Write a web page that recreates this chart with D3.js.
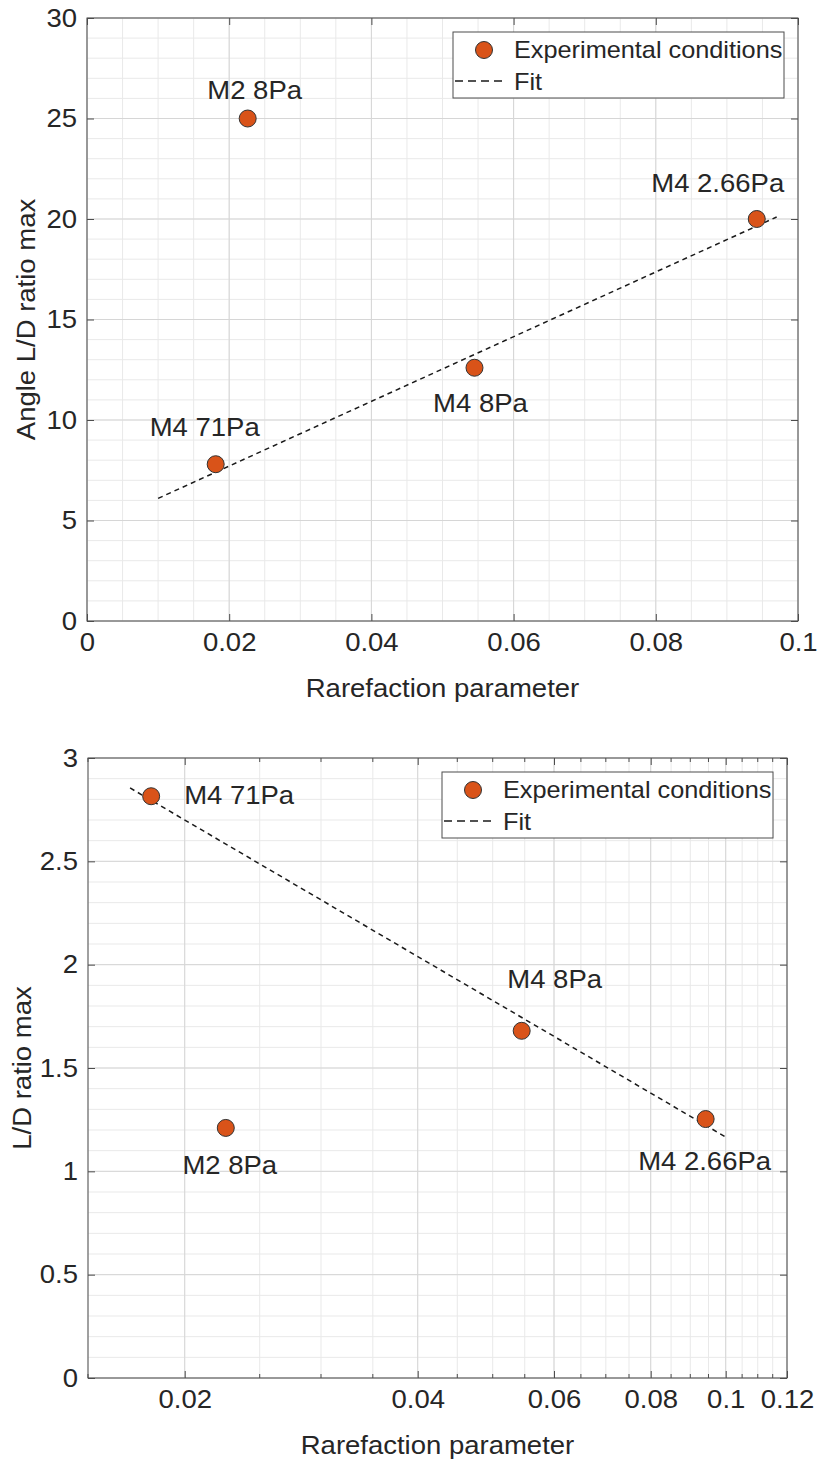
<!DOCTYPE html>
<html>
<head>
<meta charset="utf-8">
<script src="https://cdn.jsdelivr.net/npm/d3@7"></script>
<style>
  body { margin: 0; background: #fff; }
  text { font-family: "Liberation Sans", Arial, sans-serif; fill: #262626; }
</style>
</head>
<body>
<svg id="chart" width="817" height="1459"></svg>
<script>
// data
const conditions = ["M4 71Pa", "M2 8Pa", "M4 8Pa", "M4 2.66Pa"];
const rarefaction = [0.0181, 0.0226, 0.0545, 0.0942];
const angleLD = [7.8, 25, 12.6, 20];
const ratioLD = [2.815, 1.21, 1.68, 1.253];

const fitAngleX = [0.01, 0.097];
const fitAngleY = [6.1, 20.1];
const fitRatioX = [0.017, 0.1];
const fitRatioY = [2.855, 1.166];

const topXTicks = [0, 0.02, 0.04, 0.06, 0.08, 0.1];
const topXLabels = ["0", "0.02", "0.04", "0.06", "0.08", "0.1"];
const topYTicks = [0, 5, 10, 15, 20, 25, 30];
const topYLabels = ["0", "5", "10", "15", "20", "25", "30"];
const botXTicks = [0.02, 0.04, 0.06, 0.08, 0.1, 0.12];
const botXLabels = ["0.02", "0.04", "0.06", "0.08", "0.1", "0.12"];
const botYTicks = [0, 0.5, 1, 1.5, 2, 2.5, 3];
const botYLabels = ["0", "0.5", "1", "1.5", "2", "2.5", "3"];

// where each annotation sits relative to its point (same order as conditions)
const topLabelPos = [
  {dx: -11, dy: -28, anchor: "middle"},
  {dx: 7, dy: -19, anchor: "middle"},
  {dx: 6, dy: 44, anchor: "middle"},
  {dx: -39, dy: -27, anchor: "middle"}
];
const botLabelPos = [
  {dx: 33, dy: 8, anchor: "start"},
  {dx: 4, dy: 46, anchor: "middle"},
  {dx: 33, dy: -43, anchor: "middle"},
  {dx: -1, dy: 51, anchor: "middle"}
];

const svg = d3.select("#chart");
const orange = "#D95319";
const fs = 25;

// the figure's font runs a bit wider than Arial
function wide(sel, origin) {
  sel.style("transform-box", "fill-box")
    .style("transform-origin", origin || "center")
    .style("transform", "scaleX(1.1)");
}
const originFor = a => a === "start" ? "left center" : a === "end" ? "right center" : "center";

function panel(o) {
  const g = svg.append("g");
  const x = o.x, y = o.y;
  const [x0, x1] = x.range(), [y1, y0] = y.range();

  // grid
  g.append("g").selectAll("line").data(o.xMinor).enter().append("line")
    .attr("x1", d => x(d)).attr("x2", d => x(d)).attr("y1", y0).attr("y2", y1)
    .attr("stroke", "#e9e9e9").attr("stroke-width", 1);
  g.append("g").selectAll("line").data(o.yMinor).enter().append("line")
    .attr("y1", d => y(d)).attr("y2", d => y(d)).attr("x1", x0).attr("x2", x1)
    .attr("stroke", "#e9e9e9").attr("stroke-width", 1);
  g.append("g").selectAll("line").data(o.xTicks).enter().append("line")
    .attr("x1", d => x(d)).attr("x2", d => x(d)).attr("y1", y0).attr("y2", y1)
    .attr("stroke", "#d6d6d6").attr("stroke-width", 1);
  g.append("g").selectAll("line").data(o.yTicks).enter().append("line")
    .attr("y1", d => y(d)).attr("y2", d => y(d)).attr("x1", x0).attr("x2", x1)
    .attr("stroke", "#d6d6d6").attr("stroke-width", 1);

  // minor ticks (log axis only)
  if (o.minorTicks) {
    const mt = o.xMinor.filter(d => !o.xTicks.some(t => Math.abs(t - d) < 1e-9));
    [y1, y0].forEach((yy, k) => {
      g.append("g").selectAll("line").data(mt).enter().append("line")
        .attr("x1", d => x(d)).attr("x2", d => x(d))
        .attr("y1", yy).attr("y2", k ? yy + 4 : yy - 4)
        .attr("stroke", "#4d4d4d");
    });
  }

  // axes with inward ticks
  const ax = (axis, labels, tr, origin) => {
    const a = g.append("g").attr("transform", tr).call(axis);
    a.select(".domain").remove();
    a.selectAll(".tick line").attr("stroke", "#4d4d4d");
    if (!labels) { a.selectAll("text").remove(); return a; }
    a.selectAll("text").attr("font-size", fs).attr("fill", "#262626")
      .style("font-family", '"Liberation Sans", Arial, sans-serif')
      .call(wide, origin);
    return a;
  };
  ax(d3.axisBottom(x).tickValues(o.xTicks).tickSize(-7).tickPadding(12)
      .tickFormat((d, i) => o.xLabels[i]), true, `translate(0,${y1})`, "center");
  ax(d3.axisTop(x).tickValues(o.xTicks).tickSize(-7).tickFormat(""), false, `translate(0,${y0})`);
  ax(d3.axisLeft(y).tickValues(o.yTicks).tickSize(-7).tickPadding(10)
      .tickFormat((d, i) => o.yLabels[i]), true, `translate(${x0},0)`, "right center");
  ax(d3.axisRight(y).tickValues(o.yTicks).tickSize(-7).tickFormat(""), false, `translate(${x1},0)`);

  g.append("rect").attr("x", x0).attr("y", y0)
    .attr("width", x1 - x0).attr("height", y1 - y0)
    .attr("fill", "none").attr("stroke", "#4d4d4d").attr("stroke-width", 1);

  // fit line
  const line = d3.line().x(d => x(d[0])).y(d => y(d[1]));
  g.append("path").datum(d3.zip(o.fitX, o.fitY))
    .attr("d", line).attr("fill", "none")
    .attr("stroke", "#1a1a1a").attr("stroke-width", 1.5)
    .attr("stroke-dasharray", "5,4");

  // points
  const pts = d3.zip(rarefaction, o.values);
  g.append("g").selectAll("circle").data(pts).enter().append("circle")
    .attr("cx", d => x(d[0])).attr("cy", d => y(d[1])).attr("r", 8.5)
    .attr("fill", orange).attr("stroke", "#333").attr("stroke-width", 1);

  g.append("g").selectAll("text").data(pts).enter().append("text")
    .attr("x", (d, i) => x(d[0]) + o.labelPos[i].dx)
    .attr("y", (d, i) => y(d[1]) + o.labelPos[i].dy)
    .attr("text-anchor", (d, i) => o.labelPos[i].anchor)
    .attr("font-size", fs)
    .text((d, i) => conditions[i])
    .each(function(d, i) { wide(d3.select(this), originFor(o.labelPos[i].anchor)); });

  // axis titles
  g.append("text").attr("x", (x0 + x1) / 2).attr("y", y1 + 76)
    .attr("text-anchor", "middle").attr("font-size", fs).text(o.xTitle)
    .call(wide, "center");
  g.append("g")
    .attr("transform", `translate(${o.yTitleX},${(y0 + y1) / 2}) rotate(-90)`)
    .append("text")
    .attr("text-anchor", "middle").attr("font-size", fs).text(o.yTitle)
    .call(wide, "center");

  // legend
  const lx = x1 - 14 - 331, ly = y0 + 14;
  const lg = g.append("g").attr("transform", `translate(${lx},${ly})`);
  lg.append("rect").attr("width", 331).attr("height", 66)
    .attr("fill", "#fff").attr("stroke", "#4d4d4d").attr("stroke-width", 1);
  lg.append("circle").attr("cx", 31).attr("cy", 18).attr("r", 8.5)
    .attr("fill", orange).attr("stroke", "#333");
  lg.append("text").attr("x", 61).attr("y", 26).attr("font-size", 23)
    .text("Experimental conditions").call(wide, "left center");
  lg.append("line").attr("x1", 2).attr("x2", 52).attr("y1", 49).attr("y2", 49)
    .attr("stroke", "#1a1a1a").attr("stroke-width", 1.5).attr("stroke-dasharray", "8,5");
  lg.append("text").attr("x", 61).attr("y", 58).attr("font-size", 23)
    .text("Fit").call(wide, "left center");
}

panel({
  x: d3.scaleLinear().domain([0, 0.1]).range([87, 798]),
  y: d3.scaleLinear().domain([0, 30]).range([621, 18]),
  xTicks: topXTicks, xLabels: topXLabels,
  yTicks: topYTicks, yLabels: topYLabels,
  xMinor: d3.range(0, 0.1001, 0.005),
  yMinor: d3.range(0, 30.01, 1),
  fitX: fitAngleX, fitY: fitAngleY,
  values: angleLD, labelPos: topLabelPos,
  xTitle: "Rarefaction parameter", yTitle: "Angle L/D ratio max", yTitleX: 35,
  minorTicks: false
});

panel({
  x: d3.scaleLog().domain([0.015, 0.12]).range([88, 787]),
  y: d3.scaleLinear().domain([0, 3]).range([1378, 758]),
  xTicks: botXTicks, xLabels: botXLabels,
  yTicks: botYTicks, yLabels: botYLabels,
  xMinor: d3.range(0.015, 0.12001, 0.005),
  yMinor: d3.range(0, 3.001, 0.1),
  fitX: fitRatioX, fitY: fitRatioY,
  values: ratioLD, labelPos: botLabelPos,
  xTitle: "Rarefaction parameter", yTitle: "L/D ratio max", yTitleX: 31,
  minorTicks: true
});
</script>
</body>
</html>
